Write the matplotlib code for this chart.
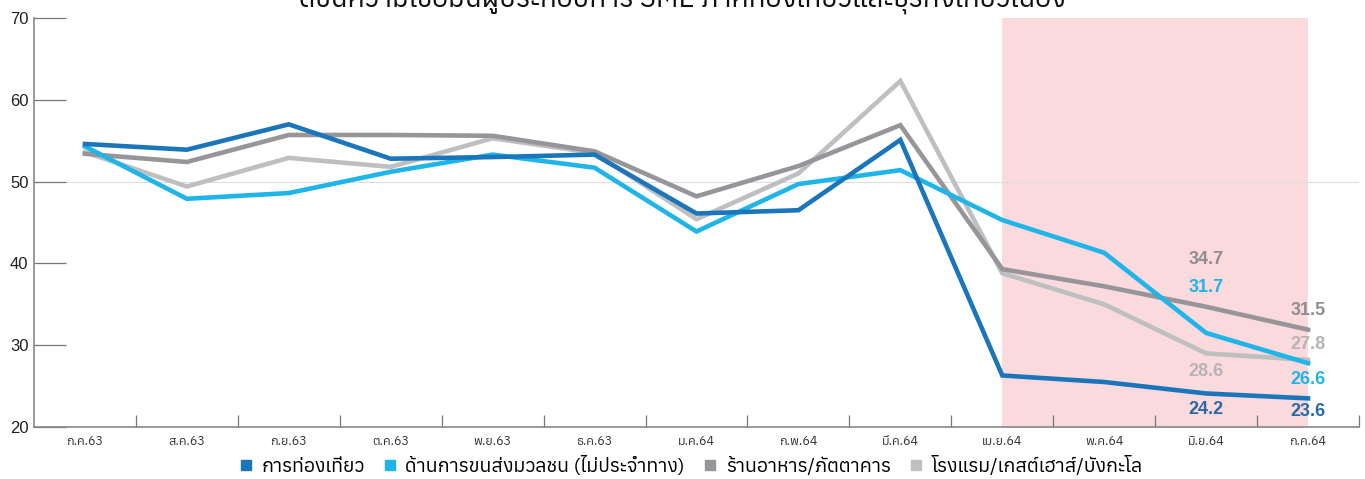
import matplotlib
matplotlib.use("Agg")
import matplotlib.pyplot as plt
from matplotlib.lines import Line2D

months = ["ก.ค.63", "ส.ค.63", "ก.ย.63", "ต.ค.63", "พ.ย.63", "ธ.ค.63", "ม.ค.64",
          "ก.พ.64", "มี.ค.64", "เม.ย.64", "พ.ค.64", "มิ.ย.64", "ก.ค.64"]
tourism = [54.6, 53.9, 57.0, 52.8, 53.0, 53.3, 46.1, 46.5, 55.1, 26.3, 25.5, 24.1, 23.5]
transport = [54.3, 47.9, 48.6, 51.2, 53.3, 51.7, 43.9, 49.7, 51.4, 45.3, 41.3, 31.5, 27.8]
restaurant = [53.4, 52.4, 55.7, 55.7, 55.6, 53.7, 48.2, 51.9, 56.9, 39.3, 37.2, 34.7, 31.9]
hotel = [53.6, 49.4, 52.9, 51.8, 55.3, 53.5, 45.4, 51.0, 62.3, 38.8, 35.0, 29.0, 28.2]

names = ["การท่องเที่ยว", "ด้านการขนส่งมวลชน (ไม่ประจำทาง)", "ร้านอาหาร/ภัตตาคาร", "โรงแรม/เกสต์เฮาส์/บังกะโล"]
colors = ["#1b75bb", "#1fb5e8", "#97959a", "#bdbfc1"]

# value labels: (text, month index, y position, colour)
label_text = ["34.7", "31.7", "28.6", "24.2", "31.5", "27.8", "26.6", "23.6"]
label_month = [11, 11, 11, 11, 12, 12, 12, 12]
label_y = [40.5, 37.0, 26.8, 22.1, 34.3, 30.1, 25.8, 21.9]
label_color = ["#8f8d92", "#1fb5e8", "#b7b3b7", "#2a68a6", "#8f8d92", "#b7b3b7", "#1fb5e8", "#2a68a6"]

title = "ดัชนีความเชื่อมั่นผู้ประกอบการ SME ภาคท่องเที่ยวและธุรกิจเกี่ยวเนื่อง"

plt.rcParams['font.family'] = ["Anuphan", "DejaVu Sans"]

fig = plt.figure(figsize=(13.65, 4.79), dpi=100)
ax = fig.add_axes([34 / 1365, 52 / 479, 1325 / 1365, 409 / 479])

x = list(range(len(months)))
ax.axvspan(9, 12, color="#fadadd", zorder=0, lw=0)
ax.axhline(50, color="#dddddd", lw=0.8, zorder=1)
# draw light lines first so the blues sit on top
for vals, c in zip([hotel, restaurant, transport, tourism], colors[::-1]):
    ax.plot(x, vals, color=c, lw=3.3, solid_joinstyle="miter", zorder=3)

for t, m, yv, c in zip(label_text, label_month, label_y, label_color):
    ax.text(m, yv, t, color=c, ha="center", va="center", fontsize=13,
            fontweight="bold", family=["Liberation Sans", "DejaVu Sans"])

ax.set_xlim(-0.5, 12.5)
ax.set_ylim(20, 70)
ax.set_yticks([20, 30, 40, 50, 60, 70])
ax.set_yticklabels(["20", "30", "40", "50", "60", "70"], family=["Liberation Sans"], fontsize=12)
ax.tick_params(axis="y", direction="in", length=23, width=0.9, color="#777777", pad=4, labelcolor="#222222")
ax.set_xticks([i + 0.5 for i in range(13)])
ax.set_xticklabels([])
ax.set_xticks(x, minor=True)
ax.set_xticklabels(months, minor=True, fontsize=9, color="#333333")
ax.tick_params(axis="x", which="major", direction="in", length=9, width=0.9, color="#777777")
ax.tick_params(axis="x", which="minor", length=0, pad=6)
for s in ["top", "right"]:
    ax.spines[s].set_visible(False)
for s in ["left", "bottom"]:
    ax.spines[s].set_color("#888888")
    ax.spines[s].set_linewidth(1.2)

handles = [Line2D([], [], marker="s", ls="", color=c, markersize=7) for c in colors]
fig.legend(handles, names, loc="center", bbox_to_anchor=(0.505, 1 - 466 / 479), ncol=4,
           frameon=False, fontsize=14, handletextpad=0.3, columnspacing=0.8, handlelength=1.0)

# title sits mostly above the canvas, as in the source image
fig.text(0.5, 1 - 7 / 479, title, ha="center", va="baseline", fontsize=20, fontweight="bold", color="#111111")

fig.savefig("out.png", dpi=100)
